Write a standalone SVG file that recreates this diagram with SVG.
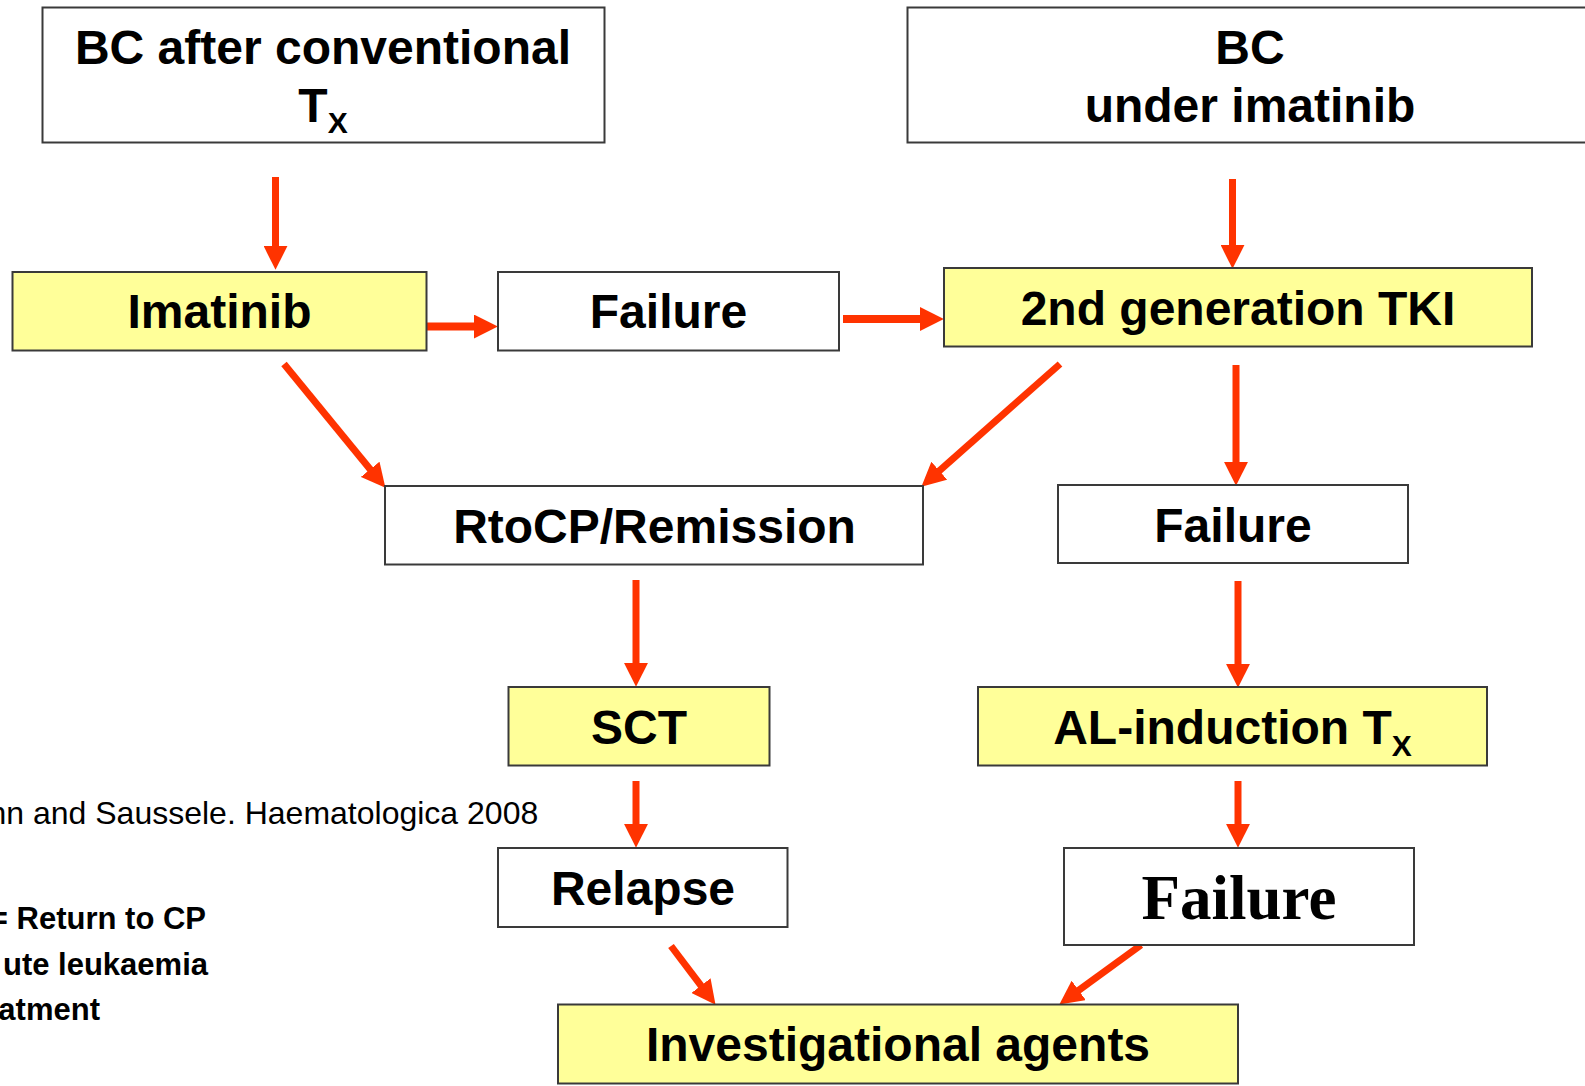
<svg xmlns="http://www.w3.org/2000/svg" width="1585" height="1086" viewBox="0 0 1585 1086">
<style>
.box{stroke:#3a3a3a;stroke-width:2}
.y{fill:#FFFF99}
.w{fill:#FFFFFF}
.t{font-family:"Liberation Sans",Arial,sans-serif;font-weight:bold;font-size:48px;fill:#000;text-anchor:middle}
.tr{font-family:"Liberation Serif","Times New Roman",serif;font-weight:bold;font-size:63px;fill:#000;text-anchor:middle}
.a{stroke:#FF3300;stroke-width:7;fill:none;marker-end:url(#ah)}
.ah{stroke-width:8}
.note{font-family:"Liberation Sans",Arial,sans-serif;font-size:32px;fill:#000}
.nb{font-family:"Liberation Sans",Arial,sans-serif;font-size:31px;font-weight:bold;fill:#000;text-anchor:end}
</style>
<defs>
<marker id="ah" markerUnits="userSpaceOnUse" markerWidth="24" markerHeight="24" viewBox="0 0 23 23" refX="3" refY="11.5" orient="auto">
<path d="M0,0 L23,11.5 L0,23 z" fill="#FF3300"/>
</marker>
</defs>
<rect width="1585" height="1086" fill="#FFFFFF"/>

<g id="connectors">
<line class="a" x1="275.5" y1="177" x2="275.5" y2="249"/>
<line class="a ah" x1="427" y1="326.5" x2="477" y2="326.5"/>
<line class="a ah" x1="843" y1="319" x2="923" y2="319"/>
<line class="a" x1="1232.5" y1="179" x2="1232.5" y2="248"/>
<line class="a" x1="284" y1="364" x2="372.2" y2="471.7"/>
<line class="a" x1="1060" y1="364" x2="937" y2="472.8"/>
<line class="a" x1="1236" y1="365" x2="1236" y2="465"/>
<line class="a" x1="636" y1="580" x2="636" y2="666"/>
<line class="a" x1="1238" y1="581" x2="1238" y2="667"/>
<line class="a" x1="636" y1="781" x2="636" y2="827"/>
<line class="a" x1="1238" y1="781" x2="1238" y2="827"/>
<line class="a" x1="671" y1="946" x2="702.9" y2="988.1"/>
<line class="a" x1="1141" y1="945" x2="1076.2" y2="992.2"/>
</g>

<g id="bc-conventional">
<rect class="box w" x="42.5" y="7.5" width="562" height="135"/>
<text class="t" x="323" y="64">BC after conventional</text>
<text class="t" x="323" y="122">T<tspan font-size="30" dy="11">X</tspan></text>
</g>

<g id="bc-imatinib">
<rect class="box w" x="907.5" y="7.5" width="690" height="135"/>
<text class="t" x="1250" y="64">BC</text>
<text class="t" x="1250" y="122">under imatinib</text>
</g>

<g id="imatinib">
<rect class="box y" x="12.5" y="272" width="414" height="78.5"/>
<text class="t" x="219.5" y="328">Imatinib</text>
</g>

<g id="failure1">
<rect class="box w" x="498" y="272" width="341" height="78.5"/>
<text class="t" x="668.5" y="328">Failure</text>
</g>

<g id="tki2">
<rect class="box y" x="944" y="268" width="588" height="78.5"/>
<text class="t" x="1238" y="325">2nd generation TKI</text>
</g>

<g id="rtocp">
<rect class="box w" x="385" y="486" width="538" height="78.5"/>
<text class="t" x="654.5" y="543">RtoCP/Remission</text>
</g>

<g id="failure2">
<rect class="box w" x="1058" y="485" width="350" height="78"/>
<text class="t" x="1233" y="542">Failure</text>
</g>

<g id="sct">
<rect class="box y" x="508.5" y="687" width="261" height="78.5"/>
<text class="t" x="639" y="744">SCT</text>
</g>

<g id="al-induction">
<rect class="box y" x="978" y="687" width="509" height="78.5"/>
<text class="t" x="1232.5" y="744">AL-induction T<tspan font-size="30" dy="12">X</tspan></text>
</g>

<g id="relapse">
<rect class="box w" x="498" y="848" width="289.5" height="79"/>
<text class="t" x="643" y="905">Relapse</text>
</g>

<g id="failure3">
<rect class="box w" x="1064" y="848" width="350" height="97"/>
<text class="tr" x="1239" y="919">Failure</text>
</g>

<g id="investigational">
<rect class="box y" x="558" y="1004.5" width="680" height="79"/>
<text class="t" x="898" y="1061">Investigational agents</text>
</g>

<g id="notes">
<text class="note" x="-11.5" y="824">nn and Saussele. Haematologica 2008</text>
<text class="nb" x="206" y="929">= Return to CP</text>
<text class="nb" x="208" y="975">ute leukaemia</text>
<text class="nb" x="100" y="1020">atment</text>
</g>
</svg>
